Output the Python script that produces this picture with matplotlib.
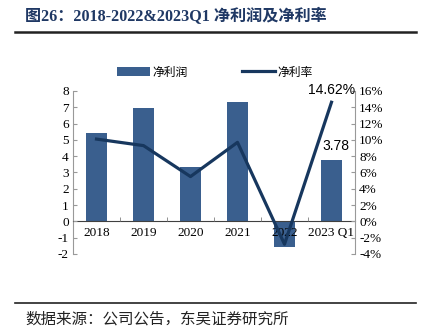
import matplotlib
matplotlib.use("Agg")
import matplotlib.pyplot as plt
import numpy as np
from matplotlib.ticker import FixedLocator

categories = ["2018", "2019", "2020", "2021", "2022", "2023 Q1"]
net_profit = [5.4, 6.95, 3.35, 7.3, -1.55, 3.78]
net_margin = [10.1, 9.3, 5.5, 9.7, -2.8, 14.62]
left_ticks = [-2, -1, 0, 1, 2, 3, 4, 5, 6, 7, 8]
right_ticks = [-4, -2, 0, 2, 4, 6, 8, 10, 12, 14, 16]

CJK = ["Noto Sans CJK SC", "DejaVu Sans"]
SERIF = "Liberation Serif"
bar_color = "#3A5F8E"
line_color = "#17375E"
title_color = "#1F3864"

fig = plt.figure(figsize=(4.22, 3.35), dpi=100)
ax = fig.add_axes([73/422, 1-254/335, (355-73)/422, (254-91)/335])
ax2 = ax.twinx()

x = np.arange(len(categories))
ax.bar(x, net_profit, width=0.45, color=bar_color, zorder=2, label="净利润")
ax.set_ylim(-2, 8)
ax.set_xlim(-0.5, len(categories) - 0.5)
ax.set_yticks(left_ticks)
ax.set_yticklabels([str(t) for t in left_ticks], fontfamily=SERIF, fontsize=9.5)
ax.set_axisbelow(False)

ax2.plot(x, net_margin, color=line_color, lw=2.3, zorder=3, label="净利率")
ax2.set_ylim(-4, 16)
ax2.set_yticks(right_ticks)
ax2.set_yticklabels([f"{t}%" for t in right_ticks], fontfamily=SERIF, fontsize=9.5)

for a in (ax, ax2):
    a.spines["top"].set_visible(False)
    a.spines["left"].set_color("#999999")
    a.spines["right"].set_color("#999999")
ax2.spines["bottom"].set_visible(False)
ax.spines["bottom"].set_position(("data", 0))
ax.spines["bottom"].set_color("#404040")
ax.spines["right"].set_visible(False)
ax2.spines["left"].set_visible(False)

ax.set_xticks(x)
ax.set_xticklabels(categories, fontfamily=SERIF, fontsize=9.5)
ax.tick_params(axis="x", which="major", length=0, pad=4)
ax.xaxis.set_minor_locator(FixedLocator(np.arange(0.5, len(categories) - 0.5, 1)))
ax.tick_params(axis="x", which="minor", direction="in", length=3, color="#808080")
ax.tick_params(axis="y", direction="in", length=3, color="#999999", pad=3)
ax2.tick_params(axis="y", direction="in", length=3, color="#999999", pad=3)

ax2.annotate(f"{net_margin[-1]:.2f}%", (x[-1], net_margin[-1]), xytext=(0, 4),
             textcoords="offset points", ha="center", va="bottom",
             fontfamily="Liberation Sans", fontsize=10, color="#000000")
ax.annotate(f"{net_profit[-1]:.2f}", (x[-1], net_profit[-1]), xytext=(3, 5),
            textcoords="offset points", ha="center", va="bottom",
            fontfamily="Liberation Sans", fontsize=10, color="#000000")

# legend
h1, l1 = ax.get_legend_handles_labels()
h2, l2 = ax2.get_legend_handles_labels()
leg = fig.legend(h1 + h2, l1 + l2, loc="center", bbox_to_anchor=(0.51, 1-72/335),
                 ncol=2, frameon=False, prop={"family": CJK, "size": 8.5},
                 handlelength=2.8, handleheight=0.9, columnspacing=4.6, handletextpad=0.2)

# title and footer
fig.text(25/422, 1-17/335, "图26：2018-2022&2023Q1 净利润及净利率", fontsize=11.6,
         fontweight="bold", color=title_color, family=["Liberation Serif", "Noto Sans CJK SC"],
         va="center", ha="left")
fig.add_artist(plt.Line2D([15/422, 416/422], [1-32/335, 1-32/335], color="#222222", lw=1.8))
fig.add_artist(plt.Line2D([15/422, 416/422], [1-303/335, 1-303/335], color="#222222", lw=1.2))
fig.text(25/422, 1-319/335, "数据来源：公司公告，东吴证券研究所", fontsize=11.2,
         family=CJK, color="#222222", va="center", ha="left")

fig.savefig("out.png", dpi=100)
